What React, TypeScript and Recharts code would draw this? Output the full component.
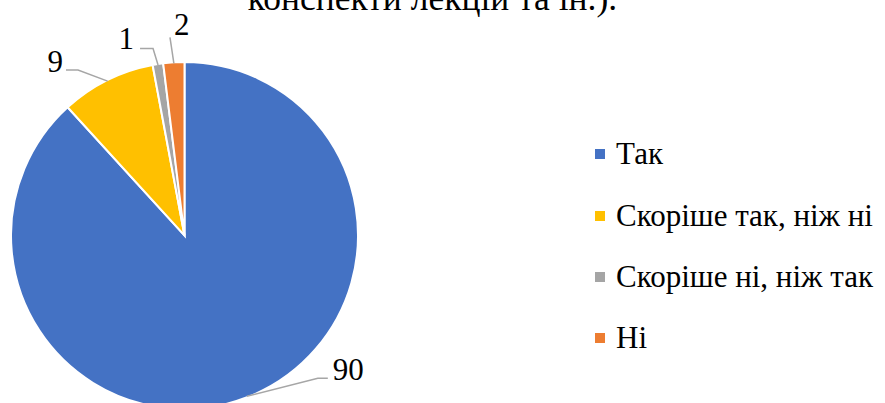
import React from 'react';
import { PieChart, Pie, Cell, Legend } from 'recharts';

const categories = ['Так', 'Скоріше так, ніж ні', 'Скоріше ні, ніж так', 'Ні'];
const values = [90, 9, 1, 2];
const colors = ['#4472C4', '#FFC000', '#A5A5A5', '#ED7D31'];
const titleText = 'конспекти лекцій та ін.).';

const data = categories.map((name, i) => ({ name, value: values[i] }));

const FONT = "'Liberation Serif', 'Times New Roman', serif";
const RAD = Math.PI / 180;

// leader line layout relative to the slice's outer-edge midpoint
const labelLayout = [
  { dx: 71, dy: -18, h: 10, tx: 5, ty: 2, anchor: 'start' },
  { dx: -29.6, dy: -11, h: -12, tx: -3, ty: 1.5, anchor: 'end' },
  { dx: -5, dy: -16.5, h: -13, tx: -6, ty: 0, anchor: 'end' },
  { dx: -3.9, dy: -26, h: 0, tx: 4, ty: -2, anchor: 'start' },
];

const renderLabel = (p: any) => {
  const { cx, cy, midAngle, outerRadius, index, value } = p;
  const r = outerRadius - 1;
  const x0 = cx + r * Math.cos(-midAngle * RAD);
  const y0 = cy + r * Math.sin(-midAngle * RAD);
  const o = labelLayout[index];
  const x1 = x0 + o.dx;
  const y1 = y0 + o.dy;
  const x2 = x1 + o.h;
  return (
    <g key={`lbl-${index}`}>
      <polyline
        points={`${x0},${y0} ${x1},${y1} ${x2},${y1}`}
        fill="none"
        stroke="#A6A6A6"
        strokeWidth={1.5}
      />
      <text
        x={x2 + o.tx}
        y={y1 + o.ty}
        textAnchor={o.anchor}
        fontFamily={FONT}
        fontSize={31}
        fill="#000"
      >
        {value}
      </text>
    </g>
  );
};

const rowCenters = [154, 216, 277, 338];

const renderLegend = (props: any) => {
  const payload = [...(props.payload || [])].sort(
    (a: any, b: any) => categories.indexOf(a.value) - categories.indexOf(b.value)
  );
  return (
    <div style={{ position: 'relative', width: 300, height: 260, fontFamily: FONT }}>
      {payload.map((entry: any, i: number) => (
        <div
          key={i}
          style={{
            position: 'absolute',
            left: 0,
            top: rowCenters[i] - 17 - 120,
            height: 34,
            display: 'flex',
            alignItems: 'center',
            whiteSpace: 'nowrap',
            fontFamily: FONT,
          }}
        >
          <span
            style={{
              display: 'inline-block',
              width: 10,
              height: 10,
              background: entry.color,
              marginLeft: 5,
              marginRight: 11,
            }}
          />
          <span style={{ fontFamily: FONT, fontSize: 31, lineHeight: '34px', color: '#000' }}>
            {entry.value}
          </span>
        </div>
      ))}
    </div>
  );
};

export default function App() {
  return (
    <div style={{ position: 'absolute', left: 0, top: 0, width: 885, height: 403, overflow: 'hidden', background: '#fff', fontFamily: FONT }}>
      <div
        style={{
          position: 'absolute',
          left: 0,
          width: 865,
          top: -22,
          textAlign: 'center',
          fontFamily: FONT,
          fontSize: 35.5,
          lineHeight: '40px',
          color: '#000',
          whiteSpace: 'nowrap',
        }}
      >
        {titleText}
      </div>
      <PieChart width={885} height={403} margin={{ top: 0, right: 0, bottom: 0, left: 0 }} style={{ fontFamily: FONT }}>
        <Pie
          data={data}
          dataKey="value"
          nameKey="name"
          cx={184.5}
          cy={235.5}
          outerRadius={173.5}
          startAngle={90}
          endAngle={-270}
          stroke="#fff"
          strokeWidth={2}
          label={renderLabel}
          labelLine={false}
          isAnimationActive={false}
        >
          {data.map((d, i) => (
            <Cell key={d.name} fill={colors[i]} />
          ))}
        </Pie>
        <Legend
          content={renderLegend}
          wrapperStyle={{ position: 'absolute', left: 590, top: 120, width: 300, height: 260, fontFamily: FONT }}
        />
      </PieChart>
    </div>
  );
}
